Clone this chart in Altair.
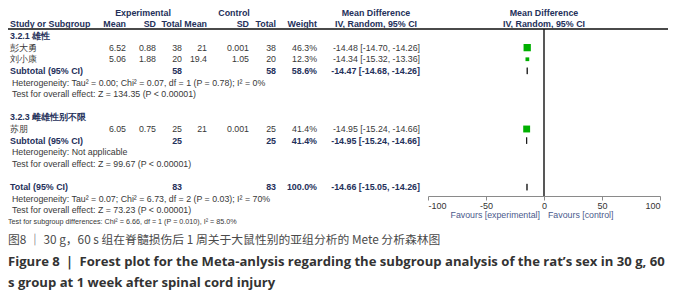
import altair as alt
import pandas as pd

FONT = "Liberation Sans"
CJK = "Noto Sans CJK SC"

# ---------------- data ----------------
studies = ["彭大勇", "刘小康", "苏朋"]
study_group = [0, 0, 1]
exp_mean = [6.52, 5.06, 6.05]
exp_sd = [0.88, 1.88, 0.75]
exp_n = [38, 20, 25]
ctrl_mean = [21, 19.4, 21]
ctrl_sd = [0.001, 1.05, 0.001]
ctrl_n = [38, 20, 25]
weights = [46.3, 12.3, 41.4]
md = [-14.48, -14.34, -14.95]
md_lo = [-14.70, -15.32, -15.24]
md_hi = [-14.26, -13.36, -14.66]

group_titles = ["3.2.1 雄性", "3.2.3 雌雄性别不限"]
sub_exp_n = [58, 25]
sub_ctrl_n = [58, 25]
sub_weight = [58.6, 41.4]
sub_md = [-14.47, -14.95]
sub_lo = [-14.68, -15.24]
sub_hi = [-14.26, -14.66]
sub_het = ["Heterogeneity: Tau² = 0.00; Chi² = 0.07, df = 1 (P = 0.78); I² = 0%",
           "Heterogeneity: Not applicable"]
sub_test = ["Test for overall effect: Z = 134.35 (P < 0.00001)",
            "Test for overall effect: Z = 99.67 (P < 0.00001)"]

tot_exp_n, tot_ctrl_n, tot_weight = 83, 83, 100.0
tot_md, tot_lo, tot_hi = -14.66, -15.05, -14.26
tot_het = "Heterogeneity: Tau² = 0.07; Chi² = 6.73, df = 2 (P = 0.03); I² = 70%"
tot_test = "Test for overall effect: Z = 73.23 (P < 0.00001)"
subgroup_test = "Test for subgroup differences: Chi² = 6.66, df = 1 (P = 0.010), I² = 85.0%"

axis_ticks = [-100, -50, 0, 50, 100]
favours = ["Favours [experimental]", "Favours [control]"]

caption_cn = "图8 ｜ 30 g，60 s 组在脊髓损伤后 1 周关于大鼠性别的亚组分析的 Mete 分析森林图"
caption_en = ["Figure 8 ｜ Forest plot for the Meta-anlysis regarding the subgroup analysis of the rat’s sex in 30 g, 60",
              "s group at 1 week after spinal cord injury"]

# ---------------- layout ----------------
W, H = 660, 284
ROW0, STEP = 28.0, 11.625


def prow(px):
    return (px - ROW0) / STEP


COLS = {"name": (2, "left"), "em": (118, "right"), "esd": (148, "right"), "en": (174, "right"),
        "cm": (199, "right"), "csd": (241, "right"), "cn": (268, "right"), "w": (309, "right"),
        "ci": (412, "right")}
NOTE_X = 4
MD_CENTER = 368
PLOT_CENTER = 536
HEAD1, HEAD2, HLINE = prow(5), prow(16), prow(21)
AXIS_Y = 188
AXIS_ROW = prow(AXIS_Y)
FAV_ROW = prow(207)
BOLD_C = "#24305a"
REG_C = "#383838"
REG_SIZE, BOLD_SIZE = 8.8, 8.9
CAP_Y = [232, 254, 275]

YS = alt.Scale(domain=[0, 16], range=[ROW0, ROW0 + STEP * 16], zero=False, nice=False)
XS = alt.Scale(domain=[-100, 100], range=[420, 652], zero=False, nice=False)
AX = alt.Axis(values=axis_ticks, title=None, grid=False, offset=(AXIS_Y - H), domainColor="#8a8a8a",
              tickColor="#8a8a8a", tickSize=4, labelFont=FONT, labelFontSize=9, labelColor="#333",
              labelPadding=1, labelExpr="toString(datum.value)")


def fmt(v):
    return f"{v:g}"


def ci_text(m, l, h):
    return f"{m:.2f} [{l:.2f}, {h:.2f}]"


# build table cells
cells = []
notes = []
forest_sq = []
forest_dia = []
row = 0
for g in range(2):
    cells.append(dict(row=row, col="name", t=group_titles[g], bold=True))
    row += 1
    for i, s in enumerate(studies):
        if study_group[i] != g:
            continue
        vals = dict(name=s, em=fmt(exp_mean[i]), esd=fmt(exp_sd[i]), en=str(exp_n[i]),
                    cm=fmt(ctrl_mean[i]), csd=fmt(ctrl_sd[i]), cn=str(ctrl_n[i]),
                    w=f"{weights[i]:.1f}%", ci=ci_text(md[i], md_lo[i], md_hi[i]))
        for c, t in vals.items():
            cells.append(dict(row=row, col=c, t=t, bold=False))
        forest_sq.append(dict(row=row, md=md[i], lo=md_lo[i], hi=md_hi[i], w=weights[i]))
        row += 1
    vals = dict(name="Subtotal (95% CI)", en=str(sub_exp_n[g]), cn=str(sub_ctrl_n[g]),
                w=f"{sub_weight[g]:.1f}%", ci=ci_text(sub_md[g], sub_lo[g], sub_hi[g]))
    for c, t in vals.items():
        cells.append(dict(row=row, col=c, t=t, bold=True))
    forest_dia.append(dict(row=row, md=sub_md[g], lo=sub_lo[g], hi=sub_hi[g], g=f"s{g}"))
    row += 1
    notes.append(dict(row=row, t=sub_het[g])); row += 1
    notes.append(dict(row=row, t=sub_test[g])); row += 2

vals = dict(name="Total (95% CI)", en=str(tot_exp_n), cn=str(tot_ctrl_n),
            w=f"{tot_weight:.1f}%", ci=ci_text(tot_md, tot_lo, tot_hi))
for c, t in vals.items():
    cells.append(dict(row=row, col=c, t=t, bold=True))
forest_dia.append(dict(row=row, md=tot_md, lo=tot_lo, hi=tot_hi, g="tot"))
row += 1
notes.append(dict(row=row, t=tot_het)); row += 1
notes.append(dict(row=row, t=tot_test)); row += 1
subtest_row = row

# headers
hdr2 = dict(name="Study or Subgroup", em="Mean", esd="SD", en="Total", cm="Mean", csd="SD",
            cn="Total", w="Weight")
for c, t in hdr2.items():
    cells.append(dict(row=HEAD2, col=c, t=t, bold=True))

cells_df = pd.DataFrame(cells)
layers = []


def tlayer(df, x, align, bold, size=None, color=None, font=FONT):
    size = size or (BOLD_SIZE if bold else REG_SIZE)
    return alt.Chart(df).mark_text(
        align=align, baseline="middle", font=font, fontSize=size,
        fontWeight="bold" if bold else "normal",
        color=color or (BOLD_C if bold else REG_C)
    ).encode(x=alt.value(x), y=alt.Y("row:Q", scale=YS, axis=None), text="t:N")


for c, (x, align) in COLS.items():
    for b in (False, True):
        sub = cells_df[(cells_df.col == c) & (cells_df.bold == b)]
        if len(sub):
            layers.append(tlayer(sub, x, align, b))

centered = [
    (HEAD1, "Experimental", 135),
    (HEAD1, "Control", 226),
    (HEAD1, "Mean Difference", MD_CENTER),
    (HEAD2, "IV, Random, 95% CI", MD_CENTER),
    (HEAD1, "Mean Difference", PLOT_CENTER),
    (HEAD2, "IV, Random, 95% CI", PLOT_CENTER),
]
for r, t, x in centered:
    layers.append(tlayer(pd.DataFrame([dict(row=r, t=t)]), x, "center", True))

layers.append(tlayer(pd.DataFrame(notes), NOTE_X, "left", False))
layers.append(tlayer(pd.DataFrame([dict(row=subtest_row, t=subgroup_test)]), 0, "left", False,
                     size=7.2))

# header rule
layers.append(alt.Chart(pd.DataFrame([dict(row=HLINE)])).mark_rule(color="#4a4a4a", strokeWidth=1.8)
              .encode(x=alt.value(0), x2=alt.value(W), y=alt.Y("row:Q", scale=YS, axis=None)))

# zero line + axis
layers.append(alt.Chart(pd.DataFrame([dict(v=0, r1=HLINE, r2=AXIS_ROW)])).mark_rule(
    color="#111", strokeWidth=1.4).encode(
    x=alt.X("v:Q", scale=XS, axis=AX), y=alt.Y("r1:Q", scale=YS, axis=None), y2="r2:Q"))

# study CIs and squares
sq_df = pd.DataFrame(forest_sq)
layers.append(alt.Chart(sq_df).mark_rule(color="#222", strokeWidth=1).encode(
    x=alt.X("lo:Q", scale=XS, axis=AX), x2="hi:Q", y=alt.Y("row:Q", scale=YS, axis=None)))
layers.append(alt.Chart(sq_df).mark_square(color="#00b000", opacity=1).encode(
    x=alt.X("md:Q", scale=XS, axis=AX), y=alt.Y("row:Q", scale=YS, axis=None),
    size=alt.Size("w:Q", scale=alt.Scale(domain=[0, 100], range=[0, 115]), legend=None)))

# diamonds
dia = []
for d in forest_dia:
    dia.append(dict(g=d["g"], x=d["lo"], y1=d["row"], y2=d["row"]))
    dia.append(dict(g=d["g"], x=d["md"], y1=d["row"] - 0.28, y2=d["row"] + 0.28))
    dia.append(dict(g=d["g"], x=d["hi"], y1=d["row"], y2=d["row"]))
dia_df = pd.DataFrame(dia)
layers.append(alt.Chart(dia_df).mark_area(color="#000", orient="vertical", stroke="#000",
                                          strokeWidth=0.8).encode(
    x=alt.X("x:Q", scale=XS, axis=AX), y=alt.Y("y1:Q", scale=YS, axis=None), y2="y2:Q",
    detail="g:N", order="x:Q"))

# favours labels
for t, align, dx in [(favours[0], "right", -4), (favours[1], "left", 4)]:
    layers.append(alt.Chart(pd.DataFrame([dict(v=0, row=FAV_ROW, t=t)])).mark_text(
        align=align, baseline="middle", dx=dx, font=FONT, fontSize=REG_SIZE,
        color="#4a5a8c").encode(
        x=alt.X("v:Q", scale=XS, axis=AX), y=alt.Y("row:Q", scale=YS, axis=None), text="t:N"))

# caption
layers.append(alt.Chart(pd.DataFrame([dict(t=caption_cn)])).mark_text(
    align="left", baseline="middle", font=CJK, fontSize=11.8, color="#4a4a4a").encode(
    x=alt.value(0), y=alt.value(CAP_Y[0]), text="t:N"))
for line, yv in zip(caption_en, CAP_Y[1:]):
    layers.append(alt.Chart(pd.DataFrame([dict(t=line)])).mark_text(
        align="left", baseline="middle", font="Open Sans", fontSize=13.1, fontWeight="bold",
        color="#333").encode(x=alt.value(0), y=alt.value(yv), text="t:N"))

chart = alt.layer(*layers).properties(
    width=W, height=H, padding=0, autosize=alt.AutoSizeParams(type="none")
).configure_view(stroke=None)

chart.save("out.html", embed_options={"renderer": "svg", "actions": False})
